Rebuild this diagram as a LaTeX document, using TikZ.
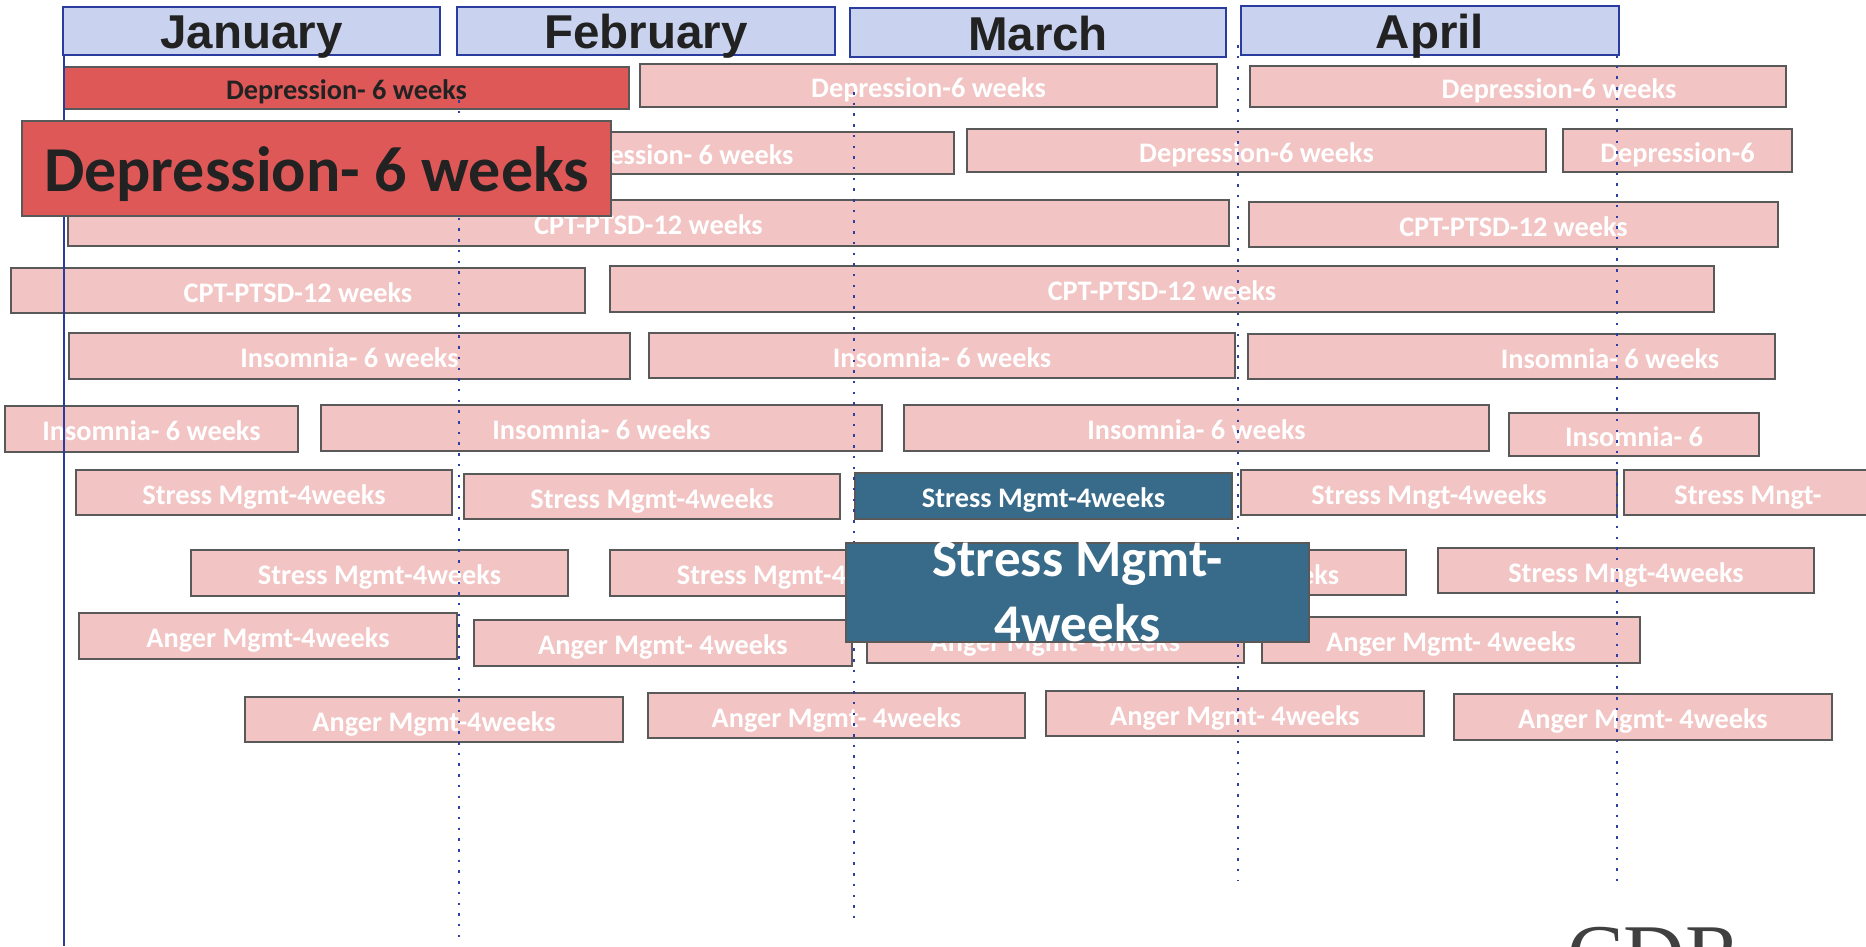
\documentclass[tikz,border=0pt]{standalone}
\usepackage{fontspec}
\newfontfamily\carl{Carlito}
\newfontfamily\arl{Liberation Sans}
\newfontfamily\tms{Liberation Serif}
\definecolor{hdrfill}{HTML}{C9D3F0}
\definecolor{hdrline}{HTML}{2A3C9E}
\definecolor{pinkfill}{HTML}{F2C4C4}
\definecolor{redfill}{HTML}{DE5858}
\definecolor{tealfill}{HTML}{386B8A}
\definecolor{bordgrey}{HTML}{595959}
\definecolor{txtdark}{HTML}{222222}
\definecolor{dotblue}{HTML}{2B3FA5}
\definecolor{cdrgrey}{HTML}{404040}
\tikzset{
  hdr/.style={draw=hdrline, line width=1.5pt, fill=hdrfill, inner sep=0pt, text=txtdark,
    font=\arl\bfseries\fontsize{47.5}{56}\selectfont, text height=35pt, text depth=0pt},
  pinkbar/.style={draw=bordgrey, line width=2pt, fill=pinkfill, inner sep=0pt, text=white,
    font=\carl\bfseries\fontsize{28.3}{34}\selectfont, text height=23pt, text depth=0pt},
  redbar/.style={pinkbar, fill=redfill, text=txtdark},
  tealbar/.style={pinkbar, fill=tealfill},
  barlbl/.style={inner sep=0pt, text=white,
    font=\carl\bfseries\fontsize{28.3}{34}\selectfont, text height=23pt, text depth=0pt},
  bigdep/.style={draw=bordgrey, line width=2pt, fill=redfill, inner sep=0pt, text=txtdark,
    font=\carl\bfseries\fontsize{64}{76}\selectfont, text height=45pt, text depth=0pt},
  bigstress/.style={draw=bordgrey, line width=2pt, fill=tealfill, inner sep=0pt, text=white,
    align=center, font=\carl\bfseries\fontsize{53}{65}\selectfont, text height=98pt, text depth=0pt},
  solidline/.style={draw=hdrline, line width=2pt},
  dotline/.style={draw=dotblue, line width=2.2pt, dash pattern=on 2.5pt off 8.2pt},
}
\newcommand\gbar[7]{\node[#1, minimum width={(#4-#2)*1pt}, minimum height={(#5-#3)*1pt}] (#6) at ({(#2+#4)/2},{(#3+#5)/2}) {#7};}
\begin{document}
\begin{tikzpicture}[x=1pt,y=-1pt]
\useasboundingbox (0,0) rectangle (1866,946);
\clip (0,0) rectangle (1866,946);
% month headers
\gbar{hdr}{63}{7}{440}{55}{jan}{January}
\gbar{hdr}{457}{7}{835}{55}{feb}{February}
\gbar{hdr}{850}{8}{1226}{57}{mar}{March}
\gbar{hdr}{1241}{6}{1619}{55}{apr}{April}
% row 1
\gbar{redbar}{64}{67}{629}{109}{d1}{Depression- 6 weeks}
\gbar{pinkbar}{640}{64}{1217}{107}{d2}{Depression-6 weeks}
\gbar{pinkbar}{1250}{66}{1786}{107}{d3}{}
\node[barlbl] (d3t) at (1559,86.5) {Depression-6 weeks};
% row 2
\gbar{pinkbar}{392}{132}{954}{174}{d4}{Depression- 6 weeks}
\gbar{pinkbar}{967}{129}{1546}{172}{d5}{Depression-6 weeks}
\gbar{pinkbar}{1563}{129}{1792}{172}{d6}{Depression-6}
% row 3
\gbar{pinkbar}{68}{200}{1229}{246}{c1}{CPT-PTSD-12 weeks}
\gbar{pinkbar}{1249}{202}{1778}{247}{c2}{CPT-PTSD-12 weeks}
% row 4
\gbar{pinkbar}{11}{268}{585}{313}{c3}{CPT-PTSD-12 weeks}
\gbar{pinkbar}{610}{266}{1714}{312}{c4}{CPT-PTSD-12 weeks}
% row 5
\gbar{pinkbar}{69}{333}{630}{379}{i1}{Insomnia- 6 weeks}
\gbar{pinkbar}{649}{333}{1235}{378}{i2}{Insomnia- 6 weeks}
\gbar{pinkbar}{1248}{334}{1775}{379}{i3}{}
\node[barlbl] (i3t) at (1610,356.5) {Insomnia- 6 weeks};
% row 6
\gbar{pinkbar}{5}{406}{298}{452}{i4}{Insomnia- 6 weeks}
\gbar{pinkbar}{321}{405}{882}{451}{i5}{Insomnia- 6 weeks}
\gbar{pinkbar}{904}{405}{1489}{451}{i6}{Insomnia- 6 weeks}
\gbar{pinkbar}{1509}{413}{1759}{456}{i7}{Insomnia- 6}
% row 7
\gbar{pinkbar}{76}{470}{452}{515}{s1}{Stress Mgmt-4weeks}
\gbar{pinkbar}{464}{474}{840}{519}{s2}{Stress Mgmt-4weeks}
\gbar{tealbar}{855}{473}{1232}{519}{s3}{Stress Mgmt-4weeks}
\gbar{pinkbar}{1241}{470}{1617}{515}{s4}{Stress Mngt-4weeks}
\gbar{pinkbar}{1624}{470}{1872}{515}{s5}{Stress Mngt-}
% row 8
\gbar{pinkbar}{191}{550}{568}{596}{s6}{Stress Mgmt-4weeks}
\gbar{pinkbar}{610}{550}{987}{596}{s7}{Stress Mgmt-4weeks}
\gbar{pinkbar}{1029}{550}{1406}{595}{s8}{Stress Mgmt-4weeks}
\gbar{pinkbar}{1438}{548}{1814}{593}{s9}{Stress Mngt-4weeks}
% row 9
\gbar{pinkbar}{79}{613}{457}{659}{a1}{Anger Mgmt-4weeks}
\gbar{pinkbar}{474}{620}{852}{666}{a2}{Anger Mgmt- 4weeks}
\gbar{pinkbar}{867}{617}{1244}{663}{a3}{Anger Mgmt- 4weeks}
\gbar{pinkbar}{1262}{617}{1640}{663}{a4}{Anger Mgmt- 4weeks}
% row 10
\gbar{pinkbar}{245}{697}{623}{742}{a5}{Anger Mgmt-4weeks}
\gbar{pinkbar}{648}{693}{1025}{738}{a6}{Anger Mgmt- 4weeks}
\gbar{pinkbar}{1046}{691}{1424}{736}{a7}{Anger Mgmt- 4weeks}
\gbar{pinkbar}{1454}{694}{1832}{740}{a8}{Anger Mgmt- 4weeks}
% timeline lines
\coordinate (l0a) at (64,55);   \coordinate (l0b) at (64,946);
\coordinate (l1a) at (459,100); \coordinate (l1b) at (459,937);
\coordinate (l2a) at (854,92);  \coordinate (l2b) at (854,919);
\coordinate (l3a) at (1238,45); \coordinate (l3b) at (1238,880);
\coordinate (l4a) at (1617,55); \coordinate (l4b) at (1617,888);
\draw[solidline] (l0a) -- (l0b);
\draw[dotline] (l1a) -- (l1b);
\draw[dotline] (l2a) -- (l2b);
\draw[dotline] (l3a) -- (l3b);
\draw[dotline] (l4a) -- (l4b);
% callouts
\gbar{bigdep}{22}{121}{611}{216}{bd}{Depression- 6 weeks}
\gbar{bigstress}{846}{543}{1309}{642}{bs}{Stress Mgmt-\\4weeks}
% logo text
\node[anchor=base, inner sep=0pt, text=cdrgrey, font=\tms\fontsize{85}{90}\selectfont] (cdr) at (1654.5,983) {CDR};
\end{tikzpicture}
\end{document}
